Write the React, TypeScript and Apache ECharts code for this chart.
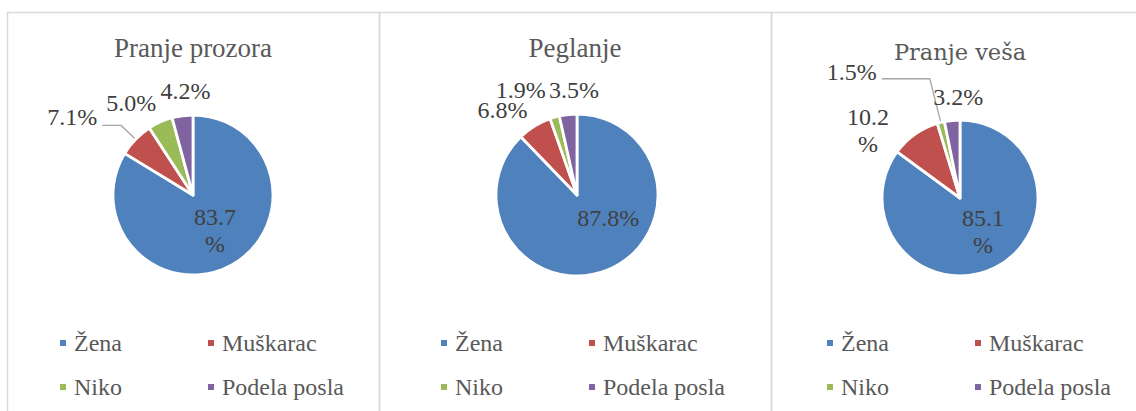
import React, { useEffect, useRef } from "react";
import * as echarts from "echarts";

const categories = ["Žena", "Muškarac", "Niko", "Podela posla"];
const panelTitles = ["Pranje prozora", "Peglanje", "Pranje veša"];
const pranjeProzora = [83.7, 7.1, 5.0, 4.2];
const peglanje = [87.8, 6.8, 1.9, 3.5];
const pranjeVesa = [85.1, 10.2, 1.5, 3.2];
const colors = ["#4F81BD", "#C0504D", "#9BBB59", "#8064A2"];

const SERIF = "'Liberation Serif', 'Times New Roman', serif";
const LABEL_COLOR = "#404040";
const TEXT_COLOR = "#595959";

type Panel = {
  values: number[];
  center: [number, number];
  r: number;
  titleX: number;
  titleTop: number;
  titleFont: string;
  titleSize: number;
  legendLeft: number;
  wrap: boolean[];
  lines: (null | [number, number, number])[];
  nudge: [number, number][];
};

const panels: Panel[] = [
  {
    values: pranjeProzora,
    center: [193, 195],
    r: 80,
    titleX: 193,
    titleTop: 34,
    titleFont: SERIF,
    titleSize: 27,
    legendLeft: 58,
    wrap: [true, false, false, false],
    lines: [null, [20, 19, 16], null, null],
    nudge: [[1, -2], [0, 0], [1, -19], [33, -25]],
  },
  {
    values: peglanje,
    center: [577, 195],
    r: 81,
    titleX: 575,
    titleTop: 34,
    titleFont: SERIF,
    titleSize: 27,
    legendLeft: 439,
    wrap: [false, false, false, false],
    lines: [null, null, null, null],
    nudge: [[15, -17], [-2, -16], [-4, -27], [36, -24]],
  },
  {
    values: pranjeVesa,
    center: [960, 198],
    r: 78,
    titleX: 960,
    titleTop: 40,
    titleFont: "'DejaVu Serif', serif",
    titleSize: 22.5,
    legendLeft: 825,
    wrap: [true, true, false, false],
    lines: [null, null, [45, 48, 14], null],
    nudge: [[4, -4], [-21, -4], [0, 0], [36, -23]],
  },
];

const baseFont = {
  fontFamily: SERIF,
  fontWeight: "normal",
  fontStyle: "normal",
};

export default function App() {
  const ref = useRef<HTMLDivElement>(null);

  useEffect(() => {
    if (!ref.current) return;
    const chart = echarts.init(ref.current, undefined, { renderer: "svg" });

    const series = panels.map((p, pi) => ({
      type: "pie",
      name: panelTitles[pi],
      center: p.center,
      radius: [0, p.r],
      startAngle: 90,
      clockwise: true,
      avoidLabelOverlap: false,
      itemStyle: { borderColor: "#ffffff", borderWidth: 2.8 },
      label: {
        show: true,
        position: "outside",
        ...baseFont,
        fontSize: 24,
        color: LABEL_COLOR,
        distanceToLabelLine: 5,
        formatter: (params: any) => {
          const t = params.value.toFixed(1);
          if (p.wrap[params.dataIndex]) return `{c|${t}}\n{c|%}`;
          return `{n|${t}%}`;
        },
        rich: {
          c: {
            align: "center",
            ...baseFont,
            fontSize: 24,
            lineHeight: 27,
            color: LABEL_COLOR,
          },
          n: {
            ...baseFont,
            fontSize: 24,
            lineHeight: 27,
            color: LABEL_COLOR,
          },
        },
      },
      labelLine: {
        show: false,
        length: 0,
        length2: 0,
        lineStyle: { color: "#a6a6a6", width: 1.3 },
      },
      labelLayout: (params: any) => {
        const n = p.nudge[params.dataIndex];
        if (!n || (n[0] === 0 && n[1] === 0)) return {};
        return { dx: n[0], dy: n[1] };
      },
      emphasis: { disabled: true },
      data: p.values.map((v, i) => {
        const item: any = {
          name: categories[i],
          value: v,
          itemStyle: { color: colors[i] },
        };
        if (i === 0) item.label = { position: "inside" };
        const ln = p.lines[i];
        if (ln) {
          item.labelLine = { show: true, length: ln[0], length2: ln[1] };
          item.label = { padding: [0, 0, ln[2], 0] };
        }
        return item;
      }),
    }));

    const option: any = {
      animation: false,
      color: colors,
      textStyle: { ...baseFont },
      title: panels.map((p, pi) => ({
        text: panelTitles[pi],
        left: p.titleX,
        top: p.titleTop,
        textAlign: "center",
        padding: 0,
        textStyle: {
          fontFamily: p.titleFont,
          fontSize: p.titleSize,
          fontWeight: "normal",
          color: TEXT_COLOR,
        },
      })),
      legend: panels.map((p) => ({
        data: categories,
        left: p.legendLeft,
        top: 331,
        width: 290,
        orient: "horizontal",
        padding: 0,
        itemGap: 20,
        itemWidth: 8,
        itemHeight: 8,
        icon: "rect",
        selectedMode: false,
        formatter: (name: string) => `{t|${name}}`,
        textStyle: {
          ...baseFont,
          fontSize: 24,
          lineHeight: 24,
          color: TEXT_COLOR,
          width: 112,
          padding: [0, 0, 0, 2],
          rich: {
            t: {
              ...baseFont,
              fontSize: 24,
              lineHeight: 24,
              color: TEXT_COLOR,
            },
          },
        },
      })),
      graphic: [
        {
          type: "rect",
          shape: { x: 7.5, y: 12.5, width: 372, height: 420 },
          style: { fill: "none", stroke: "#d9d9d9", lineWidth: 1.5 },
          silent: true,
        },
        {
          type: "rect",
          shape: { x: 379.5, y: 12.5, width: 392, height: 420 },
          style: { fill: "none", stroke: "#d9d9d9", lineWidth: 1.5 },
          silent: true,
        },
        {
          type: "rect",
          shape: { x: 771.5, y: 12.5, width: 380, height: 420 },
          style: { fill: "none", stroke: "#d9d9d9", lineWidth: 1.5 },
          silent: true,
        },
      ],
      series,
    };

    chart.setOption(option);
    return () => chart.dispose();
  }, []);

  return (
    <div
      ref={ref}
      style={{
        position: "fixed",
        left: 0,
        top: 0,
        width: 1136,
        height: 411,
        background: "#ffffff",
      }}
    />
  );
}
